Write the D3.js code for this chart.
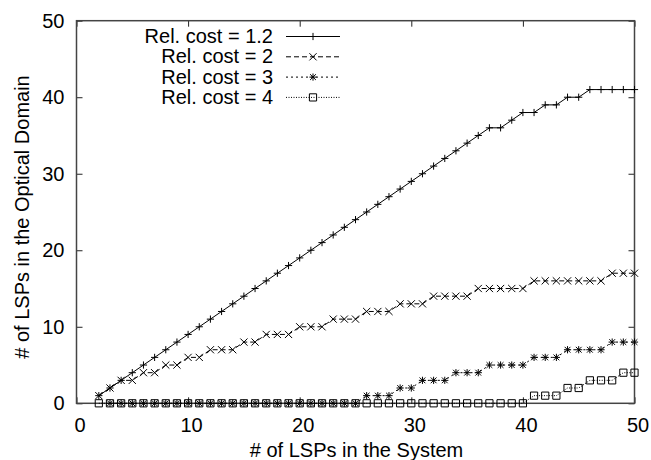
<!DOCTYPE html>
<html>
<head>
<meta charset="utf-8">
<script src="https://cdn.jsdelivr.net/npm/d3@7"></script>
<style>
  html, body { margin: 0; padding: 0; background: #fff; }
  svg { display: block; }
  text { font-family: "Liberation Sans", Arial, Helvetica, sans-serif; fill: #000; }
</style>
</head>
<body>
<svg id="chart" width="651" height="460"></svg>
<script>
// Number of LSPs in the system (x axis)
const systemLSPs = [2,3,4,5,6,7,8,9,10,11,12,13,14,15,16,17,18,19,20,21,22,23,24,25,26,
  27,28,29,30,31,32,33,34,35,36,37,38,39,40,41,42,43,44,45,46,47,48,49,50];

// LSPs placed in the optical domain, one array per relative cost
const cost12 = [1,2,3,4,5,6,7,8,9,10,11,12,13,14,15,16,17,18,19,20,21,22,23,24,25,
  26,27,28,29,30,31,32,33,34,35,36,36,37,38,38,39,39,40,40,41,41,41,41,41];
const cost2 = [1,2,3,3,4,4,5,5,6,6,7,7,7,8,8,9,9,9,10,10,10,11,11,11,12,
  12,12,13,13,13,14,14,14,14,15,15,15,15,15,16,16,16,16,16,16,16,17,17,17];
const cost3 = [null,0,0,0,0,0,0,0,0,0,0,0,0,0,0,0,0,0,0,0,0,0,0,0,1,
  1,1,2,2,3,3,3,4,4,4,5,5,5,5,6,6,6,7,7,7,7,8,8,8];
const cost4 = [0,0,0,0,0,0,0,0,0,0,0,0,0,0,0,0,0,0,0,0,0,0,0,0,0,
  0,0,0,0,0,0,0,0,0,0,0,0,0,0,1,1,1,2,2,3,3,3,4,4];

const legendLabels = ["Rel. cost = 1.2", "Rel. cost = 2", "Rel. cost = 3", "Rel. cost = 4"];
const xTicks = [0, 10, 20, 30, 40, 50];
const yTicks = [0, 10, 20, 30, 40, 50];

const series = [
  { label: legendLabels[0], values: cost12, dash: null,  marker: "plus" },
  { label: legendLabels[1], values: cost2,  dash: "5,3", marker: "cross" },
  { label: legendLabels[2], values: cost3,  dash: "2,3", marker: "star" },
  { label: legendLabels[3], values: cost4,  dash: "1,1.5", marker: "square" }
];

const svg = d3.select("#chart");
const plotLeft = 76.5, plotRight = 634.5, plotTop = 20.7, plotBottom = 403.3;

const x = d3.scaleLinear().domain([0, 50]).range([plotLeft, plotRight]);
const y = d3.scaleLinear().domain([0, 50]).range([plotBottom, plotTop]);

// Marker path generators, centred on the origin
const M = 3.6;
const markerPath = {
  plus:   `M${-M},0H${M}M0,${-M}V${M}`,
  cross:  `M${-M},${-M}L${M},${M}M${-M},${M}L${M},${-M}`,
  star:   `M${-M},0H${M}M0,${-M}V${M}M${-M*0.8},${-M*0.8}L${M*0.8},${M*0.8}M${-M*0.8},${M*0.8}L${M*0.8},${-M*0.8}`,
  square: `M${-M},${-M}H${M}V${M}H${-M}Z`
};

// Axes with inward ticks; top and right mirror the ticks without labels
const tickLen = 6;
const gx = svg.append("g").attr("transform", `translate(0,${plotBottom})`)
  .call(d3.axisBottom(x).tickValues(xTicks).tickSizeInner(-tickLen).tickSizeOuter(0).tickPadding(14.5));
const gy = svg.append("g").attr("transform", `translate(${plotLeft},0)`)
  .call(d3.axisLeft(y).tickValues(yTicks).tickSizeInner(-tickLen).tickSizeOuter(0).tickPadding(12));
const gt = svg.append("g").attr("transform", `translate(0,${plotTop})`)
  .call(d3.axisTop(x).tickValues(xTicks).tickSizeInner(-tickLen).tickSizeOuter(0).tickFormat(""));
const gr = svg.append("g").attr("transform", `translate(${plotRight},0)`)
  .call(d3.axisRight(y).tickValues(yTicks).tickSizeInner(-tickLen).tickSizeOuter(0).tickFormat(""));

[gx, gy, gt, gr].forEach(g => {
  g.select(".domain").remove();
  g.selectAll(".tick line").attr("stroke", "#222").attr("stroke-width", 1);
  g.selectAll(".tick text").attr("font-size", 20).attr("fill", "#000")
    .style("font-family", '"Liberation Sans", Arial, sans-serif');
});
gx.selectAll(".tick text").attr("dx", 3);

// Plot frame
svg.append("rect")
  .attr("x", plotLeft).attr("y", plotTop)
  .attr("width", plotRight - plotLeft).attr("height", plotBottom - plotTop)
  .attr("fill", "none").attr("stroke", "#444").attr("stroke-width", 1.5);

// Axis titles
svg.append("text")
  .attr("x", (plotLeft + plotRight) / 2 + 1).attr("y", 456.5)
  .attr("text-anchor", "middle").attr("font-size", 20)
  .text("# of LSPs in the System");
svg.append("text")
  .attr("transform", `translate(29,${(plotTop + plotBottom) / 2 + 5}) rotate(-90)`)
  .attr("text-anchor", "middle").attr("font-size", 20)
  .text("# of LSPs in the Optical Domain");

// Series lines and markers
const line = d3.line()
  .defined(d => d[1] !== null)
  .x(d => x(d[0])).y(d => y(d[1]));

const plot = svg.append("g");
series.forEach(s => {
  const pts = systemLSPs.map((v, i) => [v, s.values[i]]);
  plot.append("path")
    .datum(pts)
    .attr("d", line)
    .attr("fill", "none").attr("stroke", "#000").attr("stroke-width", 1)
    .attr("stroke-dasharray", s.dash);
  plot.selectAll(null)
    .data(pts.filter(d => d[1] !== null))
    .join("path")
    .attr("transform", d => `translate(${x(d[0])},${y(d[1])})`)
    .attr("d", markerPath[s.marker])
    .attr("fill", "none").attr("stroke", "#000").attr("stroke-width", 1);
});

// Legend
const legend = svg.append("g");
series.forEach((s, i) => {
  const ly = 36 + i * 20.3;
  legend.append("text")
    .attr("x", 273).attr("y", ly + 7)
    .attr("text-anchor", "end").attr("font-size", 20)
    .text(s.label);
  legend.append("line")
    .attr("x1", 286).attr("x2", 340).attr("y1", ly + 0.5).attr("y2", ly + 0.5)
    .attr("stroke", "#000").attr("stroke-width", 1)
    .attr("stroke-dasharray", s.dash);
  legend.append("path")
    .attr("transform", `translate(313,${ly + 0.5})`)
    .attr("d", markerPath[s.marker])
    .attr("fill", "none").attr("stroke", "#000").attr("stroke-width", 1);
});
</script>
</body>
</html>
